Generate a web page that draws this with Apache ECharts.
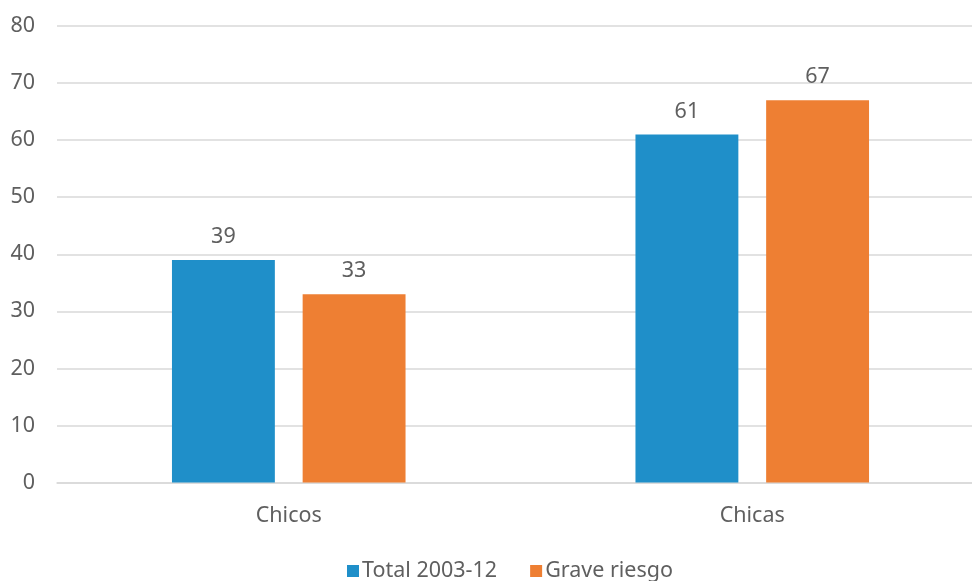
<!DOCTYPE html>
<html><head><meta charset="utf-8">
<script src="https://cdn.jsdelivr.net/npm/echarts@6/dist/echarts.min.js"></script>
<style>html,body{margin:0;padding:0;background:#fff}#c{width:972px;height:581px}</style>
</head><body><div id="c"></div>
<script>
var categories = ['Chicos', 'Chicas'];
var seriesNames = ['Total 2003-12', 'Grave riesgo'];
var totalValues = [39, 61];
var graveValues = [33, 67];
var yTicks = [0, 10, 20, 30, 40, 50, 60, 70, 80];

var FONT = '"Noto Sans", sans-serif';
var TXT = '#5f5f5f';
var FS = 21.5;
var chart = echarts.init(document.getElementById('c'), null, {renderer: 'canvas'});
var labelCfg = {show: true, position: 'top', distance: 12, color: TXT, fontSize: FS, fontFamily: FONT};
chart.setOption({
  animation: false,
  grid: {left: 57, width: 927, top: 26, bottom: 98.5, containLabel: false, outerBoundsMode: 'none'},
  legend: {
    bottom: -6, left: 342, itemWidth: 12, itemHeight: 12, itemGap: 33,
    icon: 'rect',
    textStyle: {color: TXT, fontSize: FS, fontFamily: FONT, padding: [0, 0, 0, -2]},
    data: seriesNames
  },
  xAxis: {
    type: 'category', data: categories,
    axisLine: {show: true, lineStyle: {color: '#d9d9d9', width: 1.5}},
    axisTick: {show: false},
    axisLabel: {color: TXT, fontSize: FS, fontFamily: FONT, margin: 22}
  },
  yAxis: {
    type: 'value', min: yTicks[0], max: yTicks[yTicks.length - 1], interval: 10,
    axisLine: {show: false}, axisTick: {show: false},
    splitLine: {lineStyle: {color: '#d9d9d9', width: 1.5}},
    axisLabel: {color: TXT, fontSize: FS, fontFamily: FONT, margin: 22}
  },
  series: [
    {name: seriesNames[0], type: 'bar', data: totalValues, barWidth: '22.2%', barGap: '27%',
     itemStyle: {color: '#1f8fc9'}, label: labelCfg},
    {name: seriesNames[1], type: 'bar', data: graveValues, barWidth: '22.2%',
     itemStyle: {color: '#ee7f33'}, label: labelCfg}
  ]
});
</script></body></html>
